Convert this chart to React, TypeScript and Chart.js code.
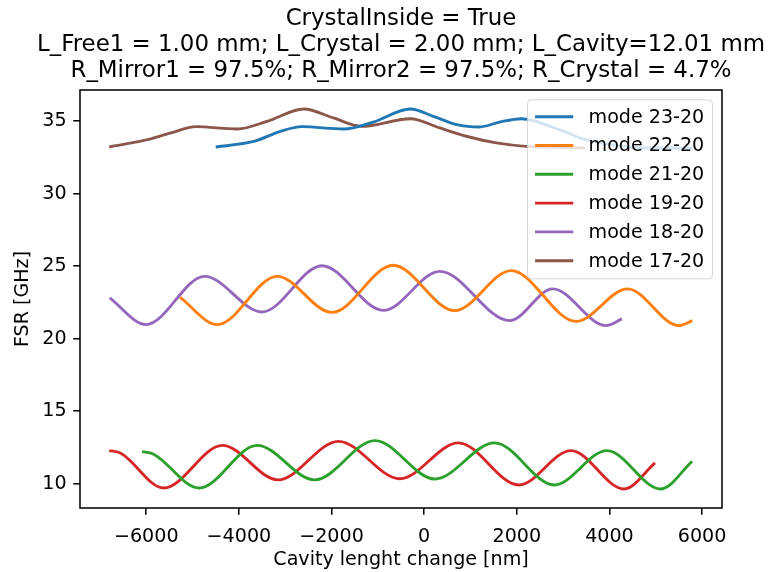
import React, { useEffect, useRef } from 'react';
import { Chart, registerables } from 'chart.js';

Chart.register(...registerables);

const FONT_FAMILY = "'DejaVu Sans', 'Liberation Sans', sans-serif";
const BASE_SIZE = 19.1;
const TITLE_SIZE = 22.9;

const titleLines = [
  'CrystalInside = True',
  'L_Free1 = 1.00 mm; L_Crystal = 2.00 mm; L_Cavity=12.01 mm',
  'R_Mirror1 = 97.5%; R_Mirror2 = 97.5%; R_Crystal = 4.7%',
];
const xAxisTitle = 'Cavity lenght change [nm]';
const yAxisTitle = 'FSR [GHz]';

const xTickValues = [-6000, -4000, -2000, 0, 2000, 4000, 6000];
const yTickValues = [10, 15, 20, 25, 30, 35];

const seriesLabels = ['mode 23-20', 'mode 22-20', 'mode 21-20', 'mode 19-20', 'mode 18-20', 'mode 17-20'];
const seriesColors = ['#1f77b4', '#ff7f0e', '#2ca02c', '#d62728', '#9467bd', '#8c564b'];

// mode 23-20
const mode2320X = [-4500, -3680, -3100, -2640, -1740, -1100, -300, 200, 700, 1200, 1630, 2100, 2920, 3490, 4210, 4920, 5800];
const mode2320Y = [33.22, 33.6, 34.3, 34.62, 34.46, 34.94, 35.84, 35.33, 34.76, 34.6, 34.94, 35.17, 34.41, 33.72, 33.31, 33.15, 33.15];

// mode 22-20
const mode2220X = [-5270, -4465, -3175, -1990, -670, 660, 1880, 3280, 4390, 5500, 5790];
const mode2220Y = [22.85, 20.97, 24.3, 21.81, 25.06, 21.93, 24.69, 21.19, 23.43, 20.9, 21.24];

// mode 21-20
const mode2120X = [-6090, -5850, -4860, -3605, -2365, -1060, 230, 1520, 2810, 3945, 5105, 5785];
const mode2120Y = [12.21, 12.05, 9.7, 12.64, 10.26, 12.97, 10.32, 12.81, 9.91, 12.28, 9.63, 11.54];

// mode 19-20
const mode1920X = [-6800, -6550, -5625, -4355, -3155, -1850, -525, 740, 2045, 3170, 4315, 4985];
const mode1920Y = [12.28, 12.1, 9.7, 12.64, 10.26, 12.92, 10.34, 12.81, 9.91, 12.28, 9.63, 11.43];

// mode 18-20
const mode1820X = [-6790, -6005, -4740, -3500, -2205, -880, 340, 1845, 2775, 3925, 4270];
const mode1820Y = [22.81, 20.97, 24.3, 21.84, 25.03, 21.95, 24.64, 21.24, 23.43, 20.9, 21.36];

// mode 17-20
const mode1720X = [-6800, -5970, -5470, -4930, -4030, -3390, -2600, -1960, -1350, -300, 340, 910, 1560, 2200, 3470];
const mode1720Y = [33.22, 33.72, 34.19, 34.62, 34.46, 34.99, 35.84, 35.22, 34.64, 35.17, 34.53, 33.96, 33.5, 33.26, 33.15];

const seriesX = [mode2320X, mode2220X, mode2120X, mode1920X, mode1820X, mode1720X];
const seriesY = [mode2320Y, mode2220Y, mode2120Y, mode1920Y, mode1820Y, mode1720Y];

const X_MIN = -7430;
const X_MAX = 6430;
const Y_MIN = 8.32;
const Y_MAX = 37.15;

const formatTick = (v: number) => (v < 0 ? '\u2212' + Math.abs(v) : String(v));

// Three-line heading centred over the plot area.
const headingPlugin = {
  id: 'heading',
  afterDraw(chart: any) {
    const { ctx, chartArea: ca } = chart;
    const cx = (ca.left + ca.right) / 2;
    ctx.save();
    ctx.font = `${TITLE_SIZE}px ${FONT_FAMILY}`;
    ctx.fillStyle = '#000';
    ctx.textAlign = 'center';
    ctx.textBaseline = 'middle';
    titleLines.forEach((line, i) => {
      ctx.fillText(line, cx, 19 + i * 26);
    });
    ctx.restore();
  },
};

// Four-sided axes frame and a boxed legend drawn over the curves.
const frameAndLegend = {
  id: 'frameAndLegend',
  afterDatasetsDraw(chart: any) {
    const { ctx, chartArea: ca } = chart;
    ctx.save();
    ctx.strokeStyle = '#000';
    ctx.lineWidth = 1.53;
    ctx.strokeRect(ca.left, ca.top, ca.right - ca.left, ca.bottom - ca.top);

    const w = 185;
    const h = 179;
    const x0 = ca.right - 9.55 - w;
    const y0 = ca.top + 9.8;
    const r = 3.8;
    ctx.beginPath();
    ctx.moveTo(x0 + r, y0);
    ctx.lineTo(x0 + w - r, y0);
    ctx.arcTo(x0 + w, y0, x0 + w, y0 + r, r);
    ctx.lineTo(x0 + w, y0 + h - r);
    ctx.arcTo(x0 + w, y0 + h, x0 + w - r, y0 + h, r);
    ctx.lineTo(x0 + r, y0 + h);
    ctx.arcTo(x0, y0 + h, x0, y0 + h - r, r);
    ctx.lineTo(x0, y0 + r);
    ctx.arcTo(x0, y0, x0 + r, y0, r);
    ctx.closePath();
    ctx.fillStyle = 'rgba(255,255,255,0.8)';
    ctx.fill();
    ctx.strokeStyle = 'rgba(204,204,204,0.8)';
    ctx.lineWidth = 1;
    ctx.stroke();

    ctx.font = `${BASE_SIZE}px ${FONT_FAMILY}`;
    ctx.textBaseline = 'middle';
    ctx.textAlign = 'left';
    chart.data.datasets.forEach((ds: any, i: number) => {
      const cy = y0 + 16.9 + i * 28.8;
      ctx.beginPath();
      ctx.moveTo(x0 + 7.6, cy);
      ctx.lineTo(x0 + 45.8, cy);
      ctx.strokeStyle = ds.borderColor;
      ctx.lineWidth = 2.86;
      ctx.lineCap = 'butt';
      ctx.stroke();
      ctx.fillStyle = '#000';
      ctx.fillText(ds.label, x0 + 61.1, cy + 1);
    });
    ctx.restore();
  },
};

export default function App() {
  const canvasRef = useRef<HTMLCanvasElement | null>(null);

  useEffect(() => {
    if (!canvasRef.current) return;
    const datasets = seriesLabels.map((label, i) => ({
      label,
      data: seriesX[i].map((x, j) => ({ x, y: seriesY[i][j] })),
      borderColor: seriesColors[i],
      backgroundColor: seriesColors[i],
      borderWidth: 2.86,
      pointRadius: 0,
      pointHoverRadius: 0,
      fill: false,
      cubicInterpolationMode: 'monotone' as const,
      borderCapStyle: 'butt' as const,
      borderJoinStyle: 'round' as const,
    }));

    const axisGrid = {
      display: true,
      drawOnChartArea: false,
      drawTicks: true,
      tickLength: 6.7,
      color: '#000',
      lineWidth: 1.53,
    };

    const chart = new Chart(canvasRef.current, {
      type: 'line',
      data: { datasets },
      options: {
        animation: false,
        responsive: false,
        devicePixelRatio: 1,
        events: [],
        layout: { padding: { left: 0, right: 48, top: 90, bottom: 0 } },
        plugins: {
          legend: { display: false },
          tooltip: { enabled: false },
          title: { display: false },
        },
        scales: {
          x: {
            type: 'linear',
            min: X_MIN,
            max: X_MAX,
            afterBuildTicks: (scale: any) => {
              scale.ticks = xTickValues.map((value) => ({ value }));
            },
            afterFit: (scale: any) => {
              scale.height = 64;
            },
            grid: axisGrid,
            border: { display: false },
            ticks: {
              autoSkip: false,
              maxRotation: 0,
              minRotation: 0,
              padding: 10.5,
              color: '#000',
              font: { family: FONT_FAMILY, size: BASE_SIZE },
              callback: (v: any) => formatTick(Number(v)),
            },
            title: {
              display: true,
              text: xAxisTitle,
              color: '#000',
              font: { family: FONT_FAMILY, size: BASE_SIZE },
              padding: { top: 4, bottom: 0.5 },
            },
          },
          y: {
            type: 'linear',
            min: Y_MIN,
            max: Y_MAX,
            afterBuildTicks: (scale: any) => {
              scale.ticks = yTickValues.map((value) => ({ value }));
            },
            afterFit: (scale: any) => {
              scale.width = 80;
            },
            grid: axisGrid,
            border: { display: false },
            ticks: {
              autoSkip: false,
              padding: 6.7,
              color: '#000',
              font: { family: FONT_FAMILY, size: BASE_SIZE },
              callback: (v: any) => formatTick(Number(v)),
            },
            title: {
              display: true,
              text: yAxisTitle,
              color: '#000',
              font: { family: FONT_FAMILY, size: BASE_SIZE },
              padding: { top: 12, bottom: 4 },
            },
          },
        },
      },
      plugins: [frameAndLegend, headingPlugin],
    });

    return () => chart.destroy();
  }, []);

  return (
    <div style={{ position: 'fixed', left: 0, top: 0, width: 770, height: 572, background: '#fff' }}>
      <canvas ref={canvasRef} width={770} height={572} style={{ display: 'block' }} />
    </div>
  );
}
